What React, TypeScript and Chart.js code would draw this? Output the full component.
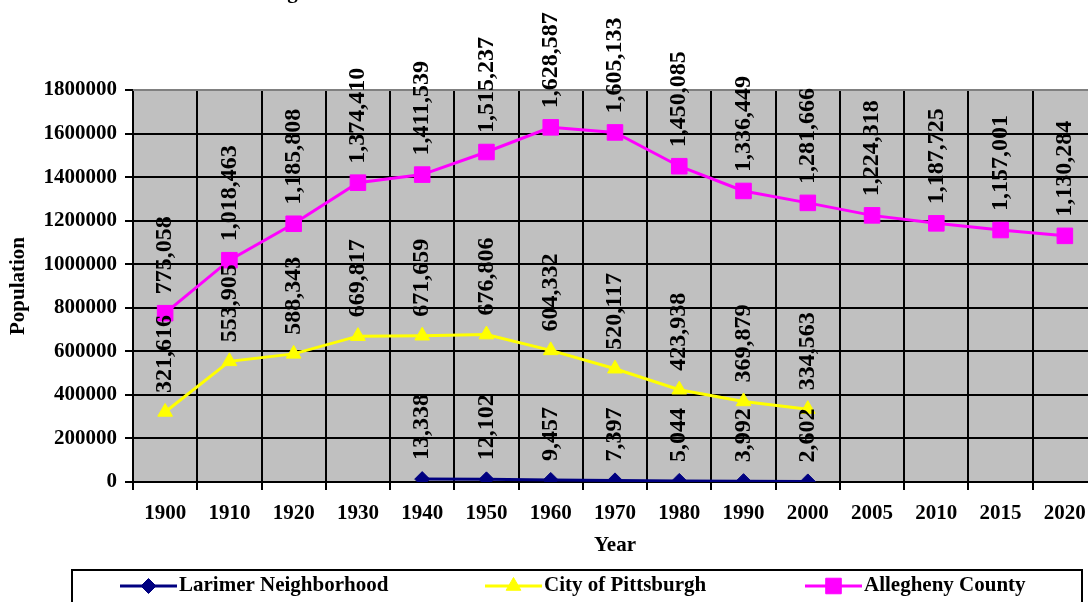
import React, { useEffect, useRef } from "react";
import { Chart, registerables } from "chart.js";
import { drawPoint } from "chart.js/helpers";

Chart.register(...registerables);

const years = ["1900", "1910", "1920", "1930", "1940", "1950", "1960", "1970", "1980", "1990", "2000", "2005", "2010", "2015", "2020"];
const larimer = [null, null, null, null, 13338, 12102, 9457, 7397, 5044, 3992, 2602, null, null, null, null];
const pittsburgh = [321616, 553905, 588343, 669817, 671659, 676806, 604332, 520117, 423938, 369879, 334563, null, null, null, null];
const allegheny = [775058, 1018463, 1185808, 1374410, 1411539, 1515237, 1628587, 1605133, 1450085, 1336449, 1281666, 1224318, 1187725, 1157001, 1130284];
const seriesNames = ["Larimer Neighborhood", "City of Pittsburgh", "Allegheny County"];
const chartTitle = "Larimer Neighborhood";
const xTitle = "Year";
const yTitle = "Population";
const yMin = 0;
const yMax = 1800000;
const yStep = 200000;

const FONT = '"Liberation Serif", "Times New Roman", serif';

const plotBg = {
  id: "plotBg",
  beforeDraw(chart: any) {
    const { ctx, chartArea: a } = chart;
    ctx.save();
    ctx.fillStyle = "#C0C0C0";
    ctx.fillRect(a.left, a.top, a.right - a.left, a.bottom - a.top);
    ctx.restore();
  },
  beforeDatasetsDraw(chart: any) {
    const { ctx, chartArea: a } = chart;
    ctx.save();
    ctx.strokeStyle = "#808080";
    ctx.lineWidth = 2;
    ctx.beginPath();
    ctx.moveTo(a.left, a.top);
    ctx.lineTo(a.right, a.top);
    ctx.stroke();
    ctx.restore();
  },
};

const valueLabels = {
  id: "valueLabels",
  afterDatasetsDraw(chart: any) {
    const ctx = chart.ctx;
    ctx.save();
    ctx.font = `bold 24px ${FONT}`;
    ctx.fillStyle = "#000";
    ctx.textAlign = "left";
    ctx.textBaseline = "middle";
    chart.data.datasets.forEach((ds: any, i: number) => {
      const meta = chart.getDatasetMeta(i);
      meta.data.forEach((pt: any, j: number) => {
        const v = ds.data[j];
        if (v == null) return;
        ctx.save();
        ctx.translate(pt.x, pt.y - 19);
        ctx.rotate(-Math.PI / 2);
        ctx.fillText(Number(v).toLocaleString("en-US"), 0, 0);
        ctx.restore();
      });
    });
    ctx.restore();
  },
};

const titleAndLegend = {
  id: "titleAndLegend",
  afterDraw(chart: any) {
    const ctx = chart.ctx;
    ctx.save();
    // title (mostly above the visible page)
    ctx.font = `bold 21px ${FONT}`;
    ctx.fillStyle = "#000";
    ctx.textAlign = "left";
    ctx.textBaseline = "alphabetic";
    ctx.fillText(chartTitle, 176, -2);

    // legend box
    ctx.strokeStyle = "#000";
    ctx.lineWidth = 2;
    ctx.strokeRect(72, 570, 1010, 60);
    const starts = [120, 485, 805];
    const y = 586;
    chart.data.datasets.forEach((ds: any, i: number) => {
      const x0 = starts[i];
      ctx.strokeStyle = ds.borderColor;
      ctx.lineWidth = ds.borderWidth;
      ctx.beginPath();
      ctx.moveTo(x0, y);
      ctx.lineTo(x0 + 57, y);
      ctx.stroke();
      ctx.fillStyle = ds.pointBackgroundColor;
      ctx.strokeStyle = ds.pointBorderColor;
      ctx.lineWidth = 1;
      drawPoint(ctx, { pointStyle: ds.pointStyle, rotation: 0, radius: ds.pointRadius, borderWidth: 1 }, x0 + 28.5, y);
      ctx.fillStyle = "#000";
      ctx.font = `bold 21px ${FONT}`;
      ctx.textBaseline = "middle";
      ctx.fillText(ds.label, x0 + 59, y);
    });
    ctx.restore();
  },
};

export default function App() {
  const ref = useRef<HTMLCanvasElement | null>(null);

  useEffect(() => {
    if (!ref.current) return;
    const chart = new Chart(ref.current, {
      type: "line",
      data: {
        labels: years,
        datasets: [
          {
            label: seriesNames[0],
            data: larimer,
            borderColor: "#000080",
            backgroundColor: "#000080",
            pointBackgroundColor: "#000080",
            pointBorderColor: "#000080",
            borderWidth: 3,
            pointStyle: "rectRot",
            pointRadius: 7.5,
            pointBorderWidth: 1,
            tension: 0,
            spanGaps: false,
          },
          {
            label: seriesNames[1],
            data: pittsburgh,
            borderColor: "#FFFF00",
            backgroundColor: "#FFFF00",
            pointBackgroundColor: "#FFFF00",
            pointBorderColor: "#FFFF00",
            borderWidth: 3,
            pointStyle: "triangle",
            pointRadius: 8.5,
            pointBorderWidth: 1,
            tension: 0,
            spanGaps: false,
          },
          {
            label: seriesNames[2],
            data: allegheny,
            borderColor: "#FF00FF",
            backgroundColor: "#FF00FF",
            pointBackgroundColor: "#FF00FF",
            pointBorderColor: "#FF00FF",
            borderWidth: 3,
            pointStyle: "rect",
            pointRadius: 11,
            pointBorderWidth: 1,
            tension: 0,
            spanGaps: false,
          },
        ] as any,
      },
      options: {
        animation: false,
        responsive: false,
        devicePixelRatio: 1,
        layout: { padding: { top: 90, left: 0, right: 13, bottom: 62 } },
        plugins: {
          legend: { display: false },
          title: { display: false },
          tooltip: { enabled: false },
        },
        scales: {
          x: {
            type: "category",
            offset: true,
            grid: {
              offset: true,
              color: "#000",
              lineWidth: 2,
              drawTicks: true,
              tickLength: 8,
              tickColor: "#000",
            },
            border: { display: true, color: "#000", width: 2 },
            ticks: {
              color: "#000",
              font: { family: FONT, size: 21, weight: "bold" },
              padding: 11,
              maxRotation: 0,
              autoSkip: false,
            },
            title: {
              display: true,
              text: xTitle,
              color: "#000",
              font: { family: FONT, size: 21, weight: "bold" },
              padding: { top: 0, bottom: 0 },
            },
            afterFit(scale: any) {
              scale.height = 76;
            },
          },
          y: {
            min: yMin,
            max: yMax,
            grid: {
              color: "#000",
              lineWidth: 2,
              drawTicks: true,
              tickLength: 8,
              tickColor: "#000",
            },
            border: { display: true, color: "#000", width: 2 },
            ticks: {
              stepSize: yStep,
              color: "#000",
              font: { family: FONT, size: 21, weight: "bold" },
              padding: 8,
              callback: (v: any) => String(v),
            },
            title: {
              display: true,
              text: yTitle,
              color: "#000",
              font: { family: FONT, size: 21, weight: "bold" },
              padding: { top: 6, bottom: 0 },
            },
            afterFit(scale: any) {
              scale.width = 133;
            },
          },
        },
      } as any,
      plugins: [plotBg, valueLabels, titleAndLegend],
    });
    return () => chart.destroy();
  }, []);

  return (
    <div style={{ position: "fixed", left: 0, top: 0, width: 1088, height: 602, overflow: "hidden", background: "#fff" }}>
      <canvas ref={ref} width={1110} height={620} style={{ display: "block" }} />
    </div>
  );
}
